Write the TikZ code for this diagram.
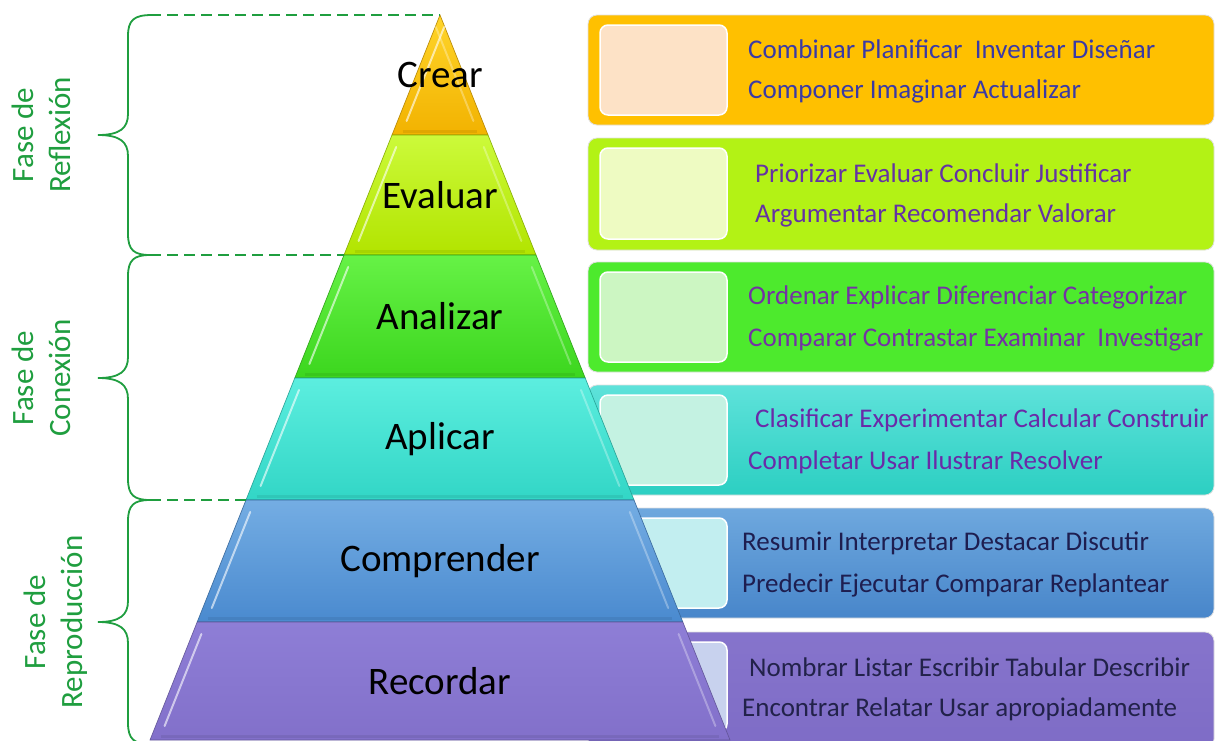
\documentclass[tikz,border=0pt]{standalone}
\usepackage{fontspec}
\setmainfont{Carlito}
\definecolor{phgreen}{HTML}{1F9E3F}
\definecolor{cAt}{HTML}{FFD52A}\definecolor{cAb}{HTML}{F2B200}
\definecolor{cBt}{HTML}{CCFA3A}\definecolor{cBb}{HTML}{B2E400}
\definecolor{cCt}{HTML}{66F246}\definecolor{cCb}{HTML}{3CD61E}
\definecolor{cDt}{HTML}{5CEEDF}\definecolor{cDb}{HTML}{32D6C6}
\definecolor{cEt}{HTML}{74ADE3}\definecolor{cEb}{HTML}{4A8ACF}
\definecolor{cFt}{HTML}{8E7ED6}\definecolor{cFb}{HTML}{8270CA}
\definecolor{bA}{HTML}{FFC000}\definecolor{iA}{HTML}{FDE2C6}\definecolor{tA}{HTML}{3A3AA6}
\definecolor{bB}{HTML}{B3F215}\definecolor{iB}{HTML}{EEFBC2}\definecolor{tB}{HTML}{6432A4}
\definecolor{bC}{HTML}{4DEA2D}\definecolor{iC}{HTML}{CCF6C2}\definecolor{tC}{HTML}{7432A4}
\definecolor{bDt}{HTML}{5EE2DA}\definecolor{bDb}{HTML}{2CCFC2}\definecolor{iD}{HTML}{C4F2E2}\definecolor{tD}{HTML}{6A2AA8}
\definecolor{bEt}{HTML}{6EA8DE}\definecolor{bEb}{HTML}{4886CA}\definecolor{iE}{HTML}{C2EEF0}\definecolor{tE}{HTML}{1E1E50}
\definecolor{bFt}{HTML}{8674CC}\definecolor{bFb}{HTML}{7E6CC6}\definecolor{iF}{HTML}{C8D2EE}\definecolor{tF}{HTML}{22224A}
\begin{document}
\begin{tikzpicture}[x=1pt,y=-1pt,
  pyrlabel/.style={font=\fontsize{39}{41}\selectfont, text=black, inner sep=0pt},
  verbtext/.style={font=\fontsize{27}{29}\selectfont, anchor=west, inner sep=0pt},
  phase/.style={font=\fontsize{31}{37}\selectfont, text=phgreen, align=center, rotate=90, inner sep=0pt},
  bracestyle/.style={draw=phgreen, line width=1.8pt},
  guide/.style={draw=phgreen, line width=1.8pt, dash pattern=on 11pt off 6pt},
  outerbox/.style={rounded corners=9pt, draw=black!12, line width=0.8pt},
  innerbox/.style={rounded corners=8pt, draw=white, line width=1.5pt}]
\useasboundingbox (0,0) rectangle (1216,740);
\fill[white] (0,0) rectangle (1216,740);
% ---------- right boxes ----------
\fill[outerbox, fill=bA] (588,15) rectangle (1214,125);
\fill[innerbox, fill=iA] (600,25) rectangle (727,115);
\fill[outerbox, fill=bB] (588,138) rectangle (1214,250);
\fill[innerbox, fill=iB] (600,148) rectangle (727,239);
\fill[outerbox, fill=bC] (588,262) rectangle (1214,372);
\fill[innerbox, fill=iC] (600,272) rectangle (727,362);
\shade[outerbox, top color=bDt, bottom color=bDb] (588,385) rectangle (1214,495);
\fill[innerbox, fill=iD] (600,395) rectangle (727,485);
\shade[outerbox, top color=bEt, bottom color=bEb] (588,508) rectangle (1214,618);
\fill[innerbox, fill=iE] (600,518) rectangle (727,608);
\shade[outerbox, top color=bFt, bottom color=bFb] (588,632) rectangle (1214,748);
\fill[innerbox, fill=iF] (600,642) rectangle (727,732);
% ---------- pyramid ----------
\foreach \ya/\yb/\ct/\cb/\nm/\lab in {
   15/135/cAt/cAb/crear/Crear,
   135/255/cBt/cBb/evaluar/Evaluar,
   255/378/cCt/cCb/analizar/Analizar,
   378/500/cDt/cDb/aplicar/Aplicar,
   500/622/cEt/cEb/comprender/Comprender,
   622/740/cFt/cFb/recordar/Recordar}{
  \pgfmathsetmacro\wa{0.4*(\ya-15)}
  \pgfmathsetmacro\wb{0.4*(\yb-15)}
  \pgfmathsetmacro\ia{0.4*(\ya+12-15)}
  \pgfmathsetmacro\ib{0.4*(\yb-14-15)}
  \shade[top color=\ct, bottom color=\cb, draw=\cb!75!black, line width=0.6pt]
    ({440-\wa},\ya) -- ({440+\wa},\ya) -- ({440+\wb},\yb) -- ({440-\wb},\yb) -- cycle;
  % bevel
  \draw[white, opacity=0.6, line width=2pt, line cap=round]
    ({440-\ia+9},{\ya+12}) -- ({440-\ib+9},{\yb-14});
  \draw[white, opacity=0.3, line width=2pt, line cap=round]
    ({440+\ia-9},{\ya+12}) -- ({440+\ib-9},{\yb-14});
  \draw[black, opacity=0.07, line width=3pt]
    ({440-\ib+5},{\yb-4}) -- ({440+\ib-5},{\yb-4});
  \node[pyrlabel] (\nm) at (440,{(\ya+\yb)/2}) {\lab};
}
% ---------- guides and braces ----------
\coordinate (g1) at (150,15);  \coordinate (a1) at (440,15);
\coordinate (g2) at (150,255); \coordinate (a2) at (344,255);
\coordinate (g3) at (150,500); \coordinate (a3) at (246,500);
\draw[guide] (g1) -- (a1);
\draw[guide] (g2) -- (a2);
\draw[guide] (g3) -- (a3);
\draw[bracestyle] (152,15) .. controls (134,15) and (128,20) .. (128,36) -- (128,114)
  .. controls (128,128) and (120,135) .. (98,135)
  .. controls (120,135) and (128,142) .. (128,156) -- (128,234)
  .. controls (128,250) and (134,255) .. (150,255);
\draw[bracestyle] (150,255) .. controls (134,255) and (128,260) .. (128,276) -- (128,357)
  .. controls (128,371) and (120,378) .. (98,378)
  .. controls (120,378) and (128,385) .. (128,399) -- (128,479)
  .. controls (128,495) and (134,500) .. (150,500);
\draw[bracestyle] (150,500) .. controls (134,500) and (128,505) .. (128,521) -- (128,601)
  .. controls (128,615) and (120,622) .. (98,622)
  .. controls (120,622) and (128,629) .. (128,643) -- (128,723)
  .. controls (128,739) and (134,744) .. (150,744);
\node[phase] (ph1) at (41,135) {Fase de\\Reflexión};
\node[phase] (ph2) at (41,378) {Fase de\\Conexión};
\node[phase] (ph3) at (56,622) {Fase de\\Reproducción};
% ---------- verbs ----------
\node[verbtext, text=tA] (v1a) at (748,49) {Combinar Planificar\ \ Inventar Diseñar};
\node[verbtext, text=tA] (v1b) at (748,91) {Componer Imaginar Actualizar};
\node[verbtext, text=tB] (v2a) at (755,173) {Priorizar Evaluar Concluir Justificar};
\node[verbtext, text=tB] (v2b) at (755,215) {Argumentar Recomendar Valorar};
\node[verbtext, text=tC] (v3a) at (748,297) {Ordenar Explicar Diferenciar Categorizar};
\node[verbtext, text=tC] (v3b) at (748,339) {Comparar Contrastar Examinar\ \ Investigar};
\node[verbtext, text=tD] (v4a) at (755,420) {Clasificar Experimentar Calcular Construir};
\node[verbtext, text=tD] (v4b) at (748,462) {Completar Usar Ilustrar Resolver};
\node[verbtext, text=tE] (v5a) at (742,543) {Resumir Interpretar Destacar Discutir};
\node[verbtext, text=tE] (v5b) at (742,585) {Predecir Ejecutar Comparar Replantear};
\node[verbtext, text=tF] (v6a) at (749,667) {Nombrar Listar Escribir Tabular Describir};
\node[verbtext, text=tF] (v6b) at (742,709) {Encontrar Relatar Usar apropiadamente};
\end{tikzpicture}
\end{document}
